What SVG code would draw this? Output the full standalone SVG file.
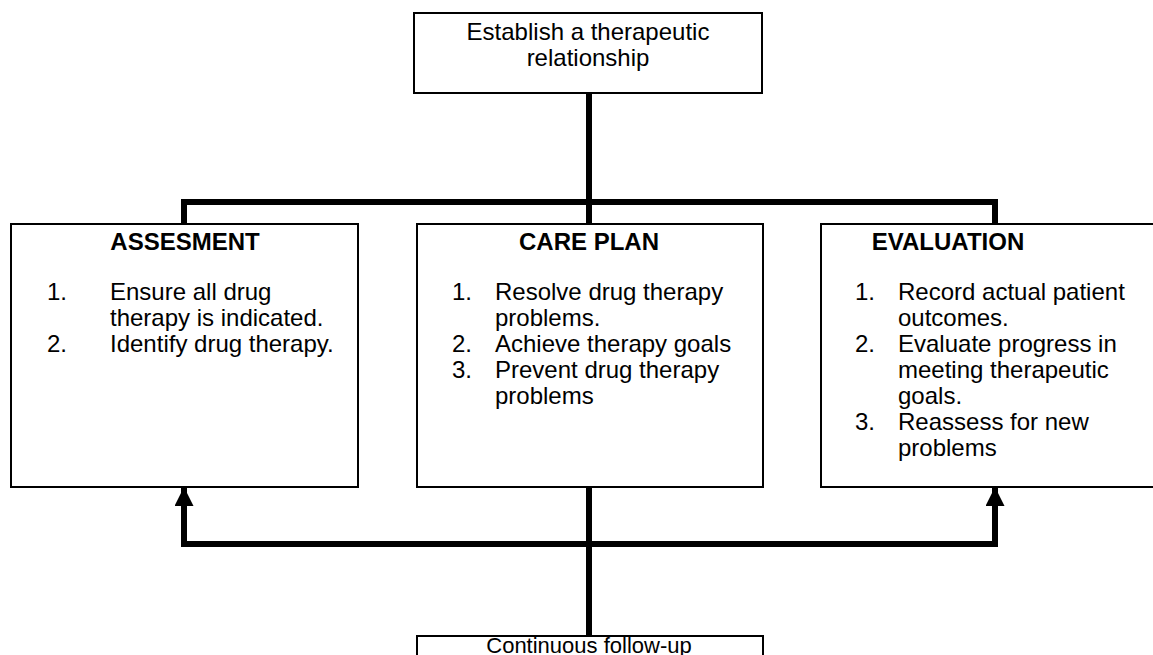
<svg xmlns="http://www.w3.org/2000/svg" width="1153" height="655" viewBox="0 0 1153 655">
  <defs>
    <style>
      .box { fill: #ffffff; stroke: #000000; stroke-width: 2; }
      .wire { fill: none; stroke: #000000; stroke-width: 6; stroke-linejoin: miter; stroke-linecap: square; }
      .t { font-family: "Liberation Sans", Arial, Helvetica, sans-serif; font-size: 24px; fill: #000000; }
      .c { text-anchor: middle; }
      .h { font-weight: bold; }
    </style>
    <marker id="head" viewBox="0 0 10 10" refX="10" refY="5" markerUnits="userSpaceOnUse" markerWidth="20" markerHeight="19" orient="auto">
      <path d="M0,0 L10,5 L0,10 Z" fill="#000000"/>
    </marker>
  </defs>

  <rect width="1153" height="655" fill="#ffffff"/>

  <!-- connectors -->
  <g id="connectors">
    <polyline class="wire" points="589,93 589,202"/>
    <polyline class="wire" points="184,224 184,202 995,202 995,224"/>
    <line class="wire" x1="589" y1="202" x2="589" y2="224"/>
    <polyline class="wire" points="589,487 589,636"/>
    <polyline class="wire" style="stroke-linecap:butt" points="184,506 184,544 995,544 995,506"/>
    <line x1="184" y1="510" x2="184" y2="487" stroke="#000" stroke-width="6" marker-end="url(#head)"/>
    <line x1="995" y1="510" x2="995" y2="487" stroke="#000" stroke-width="6" marker-end="url(#head)"/>
  </g>

  <g id="establish">
    <rect class="box" x="414" y="13" width="348" height="80"/>
    <text class="t c" x="588" y="40">Establish a therapeutic</text>
    <text class="t c" x="588" y="66">relationship</text>
  </g>

  <g id="assessment">
    <rect class="box" x="11" y="224" width="347" height="263"/>
    <text class="t c h" x="185" y="250">ASSESMENT</text>
    <text class="t" x="47" y="300">1.</text>
    <text class="t" x="110" y="300">Ensure all drug</text>
    <text class="t" x="110" y="326">therapy is indicated.</text>
    <text class="t" x="47" y="352">2.</text>
    <text class="t" x="110" y="352">Identify drug therapy.</text>
  </g>

  <g id="care-plan">
    <rect class="box" x="417" y="224" width="346" height="263"/>
    <text class="t c h" x="589" y="250">CARE PLAN</text>
    <text class="t" x="452" y="300">1.</text>
    <text class="t" x="495" y="300">Resolve drug therapy</text>
    <text class="t" x="495" y="326">problems.</text>
    <text class="t" x="452" y="352">2.</text>
    <text class="t" x="495" y="352">Achieve therapy goals</text>
    <text class="t" x="452" y="378">3.</text>
    <text class="t" x="495" y="378">Prevent drug therapy</text>
    <text class="t" x="495" y="404">problems</text>
  </g>

  <g id="evaluation">
    <rect class="box" x="821" y="224" width="345" height="263"/>
    <text class="t c h" x="948" y="250">EVALUATION</text>
    <text class="t" x="855" y="300">1.</text>
    <text class="t" x="898" y="300">Record actual patient</text>
    <text class="t" x="898" y="326">outcomes.</text>
    <text class="t" x="855" y="352">2.</text>
    <text class="t" x="898" y="352">Evaluate progress in</text>
    <text class="t" x="898" y="378">meeting therapeutic</text>
    <text class="t" x="898" y="404">goals.</text>
    <text class="t" x="855" y="430">3.</text>
    <text class="t" x="898" y="430">Reassess for new</text>
    <text class="t" x="898" y="456">problems</text>
  </g>

  <g id="follow-up">
    <rect class="box" x="417" y="636" width="346" height="40"/>
    <text class="t c" style="font-size:22px" x="589" y="653">Continuous follow-up</text>
  </g>
</svg>
